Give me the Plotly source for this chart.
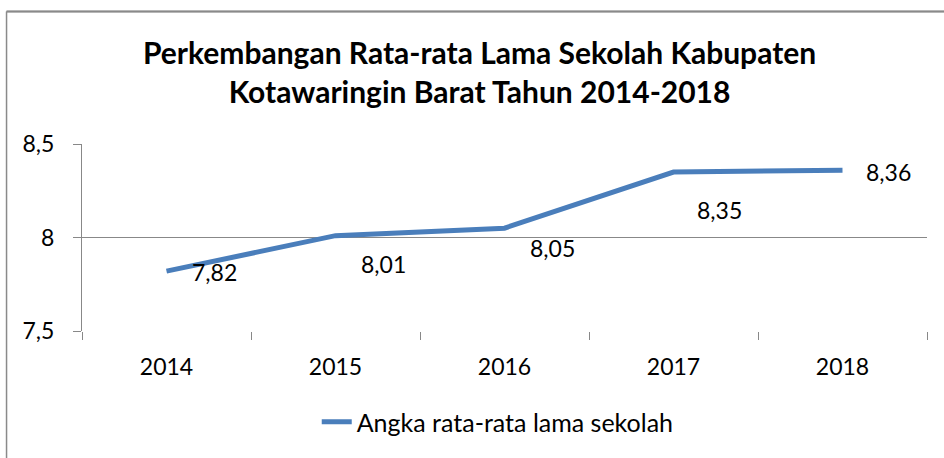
import plotly.graph_objects as go

years = ["2014", "2015", "2016", "2017", "2018"]
values = [7.82, 8.01, 8.05, 8.35, 8.36]
value_labels = ["7,82", "8,01", "8,05", "8,35", "8,36"]
series_name = "Angka rata-rata lama sekolah"
title_lines = ["Perkembangan Rata-rata Lama Sekolah Kabupaten", "Kotawaringin Barat Tahun 2014-2018"]

# label pixel offsets (style)
label_dx = [48, 48, 48, 46, 46]
label_dy = [-1, -28, -20, -38, -2]

FONT = "Lato, Carlito, 'Liberation Sans', sans-serif"
LINE = "#4A7EBB"
GRID = "#888888"
BORDER = "#8A8A8A"

fig = go.Figure()
fig.add_trace(go.Scatter(
    x=years, y=values, mode="lines", name=series_name,
    line=dict(color=LINE, width=5),
))

for i, (yv, t, dx, dy) in enumerate(zip(values, value_labels, label_dx, label_dy)):
    fig.add_annotation(x=i, y=yv, xref="x", yref="y", text=t, showarrow=False,
                       xshift=dx, yshift=dy,
                       font=dict(family=FONT, size=23, color="#000000"))

fig.update_layout(
    width=944, height=458,
    margin=dict(l=82, r=17, t=144, b=127),
    paper_bgcolor="white", plot_bgcolor="white",
    separators=",.",
    font=dict(family=FONT, size=23, color="#000000"),
    title=dict(text="<b>" + "<br>".join(title_lines) + "</b>",
               x=0.508, xref="container", xanchor="center", y=0.86, yref="container", yanchor="top",
               font=dict(family=FONT, size=30, color="#000000")),
    showlegend=True,
    legend=dict(orientation="h", x=0.492, xanchor="center", y=-0.487, yanchor="middle",
                font=dict(family=FONT, size=25), bgcolor="rgba(0,0,0,0)"),
    shapes=[
        dict(type="line", xref="paper", yref="paper", x0=-0.0893, x1=-0.0893, y0=-1.2, y1=1.7086,
             line=dict(color=BORDER, width=1.5), layer="above"),
        dict(type="line", xref="paper", yref="paper", x0=-0.0893, x1=1.05, y0=1.7086, y1=1.7086,
             line=dict(color=BORDER, width=2), layer="above"),
        dict(type="rect", xref="paper", yref="paper", x0=-0.0893, x1=1.05, y0=1.7046, y1=1.7126,
             fillcolor=BORDER, line=dict(width=0), layer="above"),
    ],
)

fig.update_xaxes(type="category", range=[-0.5, 4.5], tickson="boundaries", ticks="outside",
                 ticklen=8, tickcolor=GRID, showline=False, showgrid=False, zeroline=False,
                 ticklabelstandoff=20, tickfont=dict(family=FONT, size=23))
fig.update_yaxes(range=[7.5, 8.5], dtick=0.5, tick0=7.5, ticks="outside", ticklen=8, tickcolor=GRID,
                 showline=True, linecolor=GRID, linewidth=1, showgrid=True, gridcolor=GRID,
                 gridwidth=1, zeroline=False, ticklabelstandoff=14, tickfont=dict(family=FONT, size=23))

fig.write_html("out.html", config={"displayModeBar": False},
               post_script="document.body.style.margin='0';")
